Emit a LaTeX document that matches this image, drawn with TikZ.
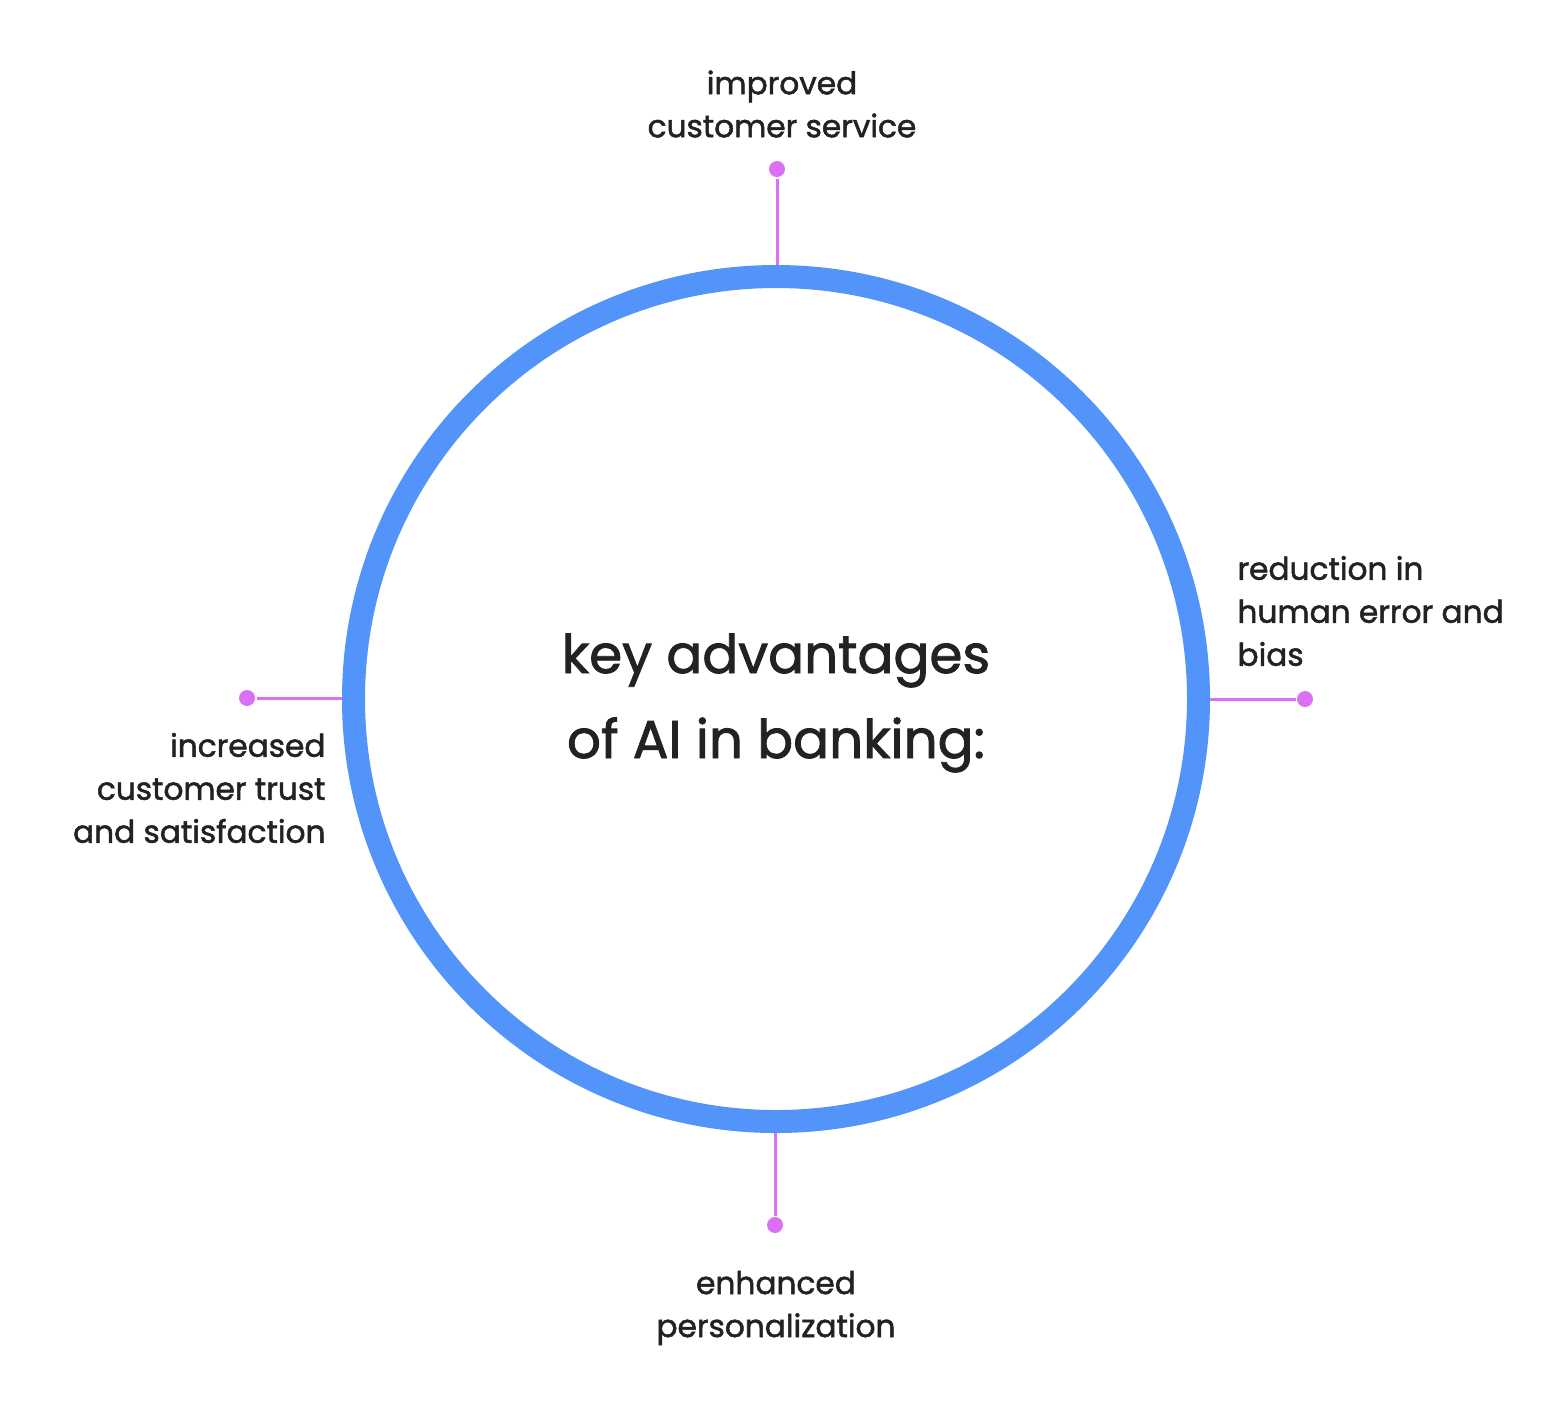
\documentclass[tikz,border=0pt]{standalone}
\usepackage{fontspec}
\setmainfont{Poppins}[FakeBold=1.6]
\usetikzlibrary{positioning}

\definecolor{ringblue}{HTML}{5294FA}
\definecolor{dotpink}{HTML}{DC70F5}
\definecolor{inkgray}{HTML}{222222}

\begin{document}
\begin{tikzpicture}[x=0.5pt, y=-0.5pt, line width=1.5pt,
  dot/.style={circle, fill=dotpink, inner sep=0pt, minimum size=8pt},
  lbl/.style={text=inkgray, inner sep=0pt, font=\fontsize{15.6}{21.5}\selectfont},
  hubtext/.style={text=inkgray, inner sep=0pt, align=center, font=\fontsize{26.6}{42.5}\selectfont}]
\useasboundingbox (0,0) rectangle (1550,1410);

% 圆环及中心文字
\node[circle, draw=ringblue, line width=11.5pt, minimum size=422.5pt, inner sep=0pt] (ring) at (776,699) {};
\node[hubtext] (hub) at (776,703) {key advantages\\of AI in banking:};

% 四个端点
\node[dot] (dotN) at (777,169) {};
\node[dot] (dotE) at (1305,699) {};
\node[dot] (dotS) at (775,1225) {};
\node[dot] (dotW) at (247,698) {};

% 连线
\draw[dotpink] (dotN |- ring.north) -- (dotN);
\draw[dotpink] (dotE -| ring.east) -- (dotE);
\draw[dotpink] (dotS |- ring.south) -- (dotS);
\draw[dotpink] (dotW -| ring.west) -- (dotW);

% 标签
\node[lbl, align=center] (topLbl) at (782,104) {improved\\customer service};
\node[lbl, align=left, anchor=west] (rightLbl) at (1236,611) {reduction in\\human error and\\bias};
\node[lbl, align=center] (bottomLbl) at (776,1308) {enhanced\\personalization};
\node[lbl, align=right, anchor=east] (leftLbl) at (327,788) {increased\\customer trust\\and satisfaction};
\end{tikzpicture}
\end{document}
